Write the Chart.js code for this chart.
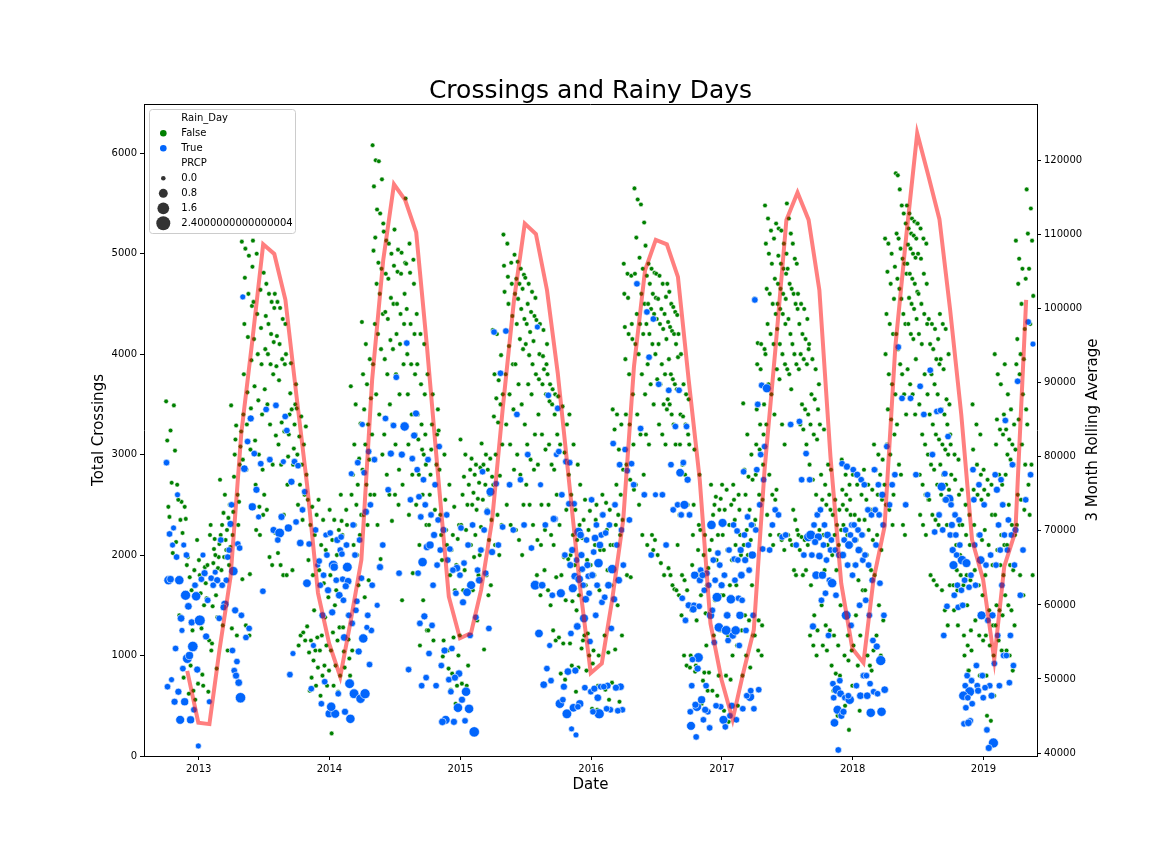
<!DOCTYPE html>
<html>
<head>
<meta charset="utf-8">
<title>Crossings and Rainy Days</title>
<script src="https://cdn.jsdelivr.net/npm/chart.js@4.4.1/dist/chart.umd.min.js"></script>
<style>
  html, body { margin: 0; padding: 0; background: #fff; }
  #wrap { width: 1152px; height: 864px; }
</style>
</head>
<body>
<div id="wrap"><canvas id="chart" width="1152" height="864"></canvas></div>
<script>
// daily data runs from Oct 2012 to mid May 2019, one inner list per month
const startYear = 2012;
const startMonth = 10;
const lastMonthDays = 20;

// crossings on days without rain
const dryCrossings = [
  // 2012 Oct-Dec
  [3530,3490,3240,3140,3040,2720,2480,2130,2020,2380],
  [2700,2480,2530,2550,2360,2220,1400,1900,780,2350],
  [1980,1850,1780,1700,1650,720,650,620,560,900,2150,1250],
  // 2013
  [1950,1880,1800,1720,1620,1570,1270,1900,810,640,700,1150,1500],
  [2200,2160,2110,2060,1980,1920,1870,1490,1380,1120,870,1050,1600,2300,2000],
  [2750,2600,2500,2420,2370,2300,2250,2200,2150,2080,1980,1900,1300,1050,1850,2050],
  [3490,3290,3230,3150,3080,3000,2900,2780,2530,2430,2300,2200,2600,1270,1200],
  [5120,5050,4980,4870,4760,4600,4480,4300,4170,3940,3800,3620,3460,3400,3300,3050,2950,2850,1810,1760,1300,1200],
  [5130,5000,4640,4520,4400,4260,4150,4000,3900,3680,3540,3400,3140,3000,2850,2700,2480,2400,2250,2200],
  [4810,4700,4600,4520,4460,4380,4300,4200,4120,4050,4000,3900,3800,3650,3500,3300,2900,2600,2450,1980,1900],
  [4600,4520,4460,4350,4300,4180,4100,3950,3900,3880,3740,3320,3230,3190,3100,2900,2400,2220,2020,1900,1800],
  [4000,3910,3700,3610,3500,3400,3300,3200,3060,2980,2900,2700,1850,1800,3450],
  [3460,3380,3280,3180,3100,3000,2900,2800,2700,2600,2500,2350,1290,1200,1150,1100,1230],
  [2550,2480,2400,2300,2200,1950,1800,1180,1150,1050,1030,950,880,780,700,650,1450],
  [2550,2350,2200,2100,2050,1850,1720,1580,1200,1100,1050,900,850,800,700,600,1380],
  // 2014
  [2450,2350,2250,2150,2000,1800,1500,1280,1230,1150,1050,900,800,700,640,225,1650],
  [2600,2450,2340,2300,2200,1400,1280,1160,1040,970,880,800,2100],
  [3680,3500,3310,3100,2960,2800,2700,2600,2500,2400,2300,2200,2100,1700,1050,2000],
  [4320,4100,3950,3800,3700,3560,3450,3300,3200,3100,2950,2850,2700,2600,2400,2300,1700,1580,1750],
  [6080,5930,5920,5740,5670,5440,5400,5300,5160,4910,4850,5030,4700,4600,4400,4300,4200,4050,3900,3600,3400,3000,2600,2300,1960],
  [5220,5130,5100,5000,4880,4800,4750,4560,4500,4420,4350,4140,4050,3950,3800,3500,3300,3200,2800,2600,2340],
  [5240,5040,5010,4910,4820,4800,4600,4500,4400,4300,4200,4100,3900,3800,3600,3300,3100,2850,2700,2600,2500,1550],
  [5550,5100,4940,4900,4810,4700,4450,4300,4200,4000,3900,3800,3600,3400,3200,3100,2800,2500,2400,1820],
  [4400,4200,4100,3900,3700,3600,3400,3300,3200,3150,3050,2900,2800,2600,2300,2100,1550,1250,1100,3000],
  [3800,3600,3450,3300,3200,3050,2900,2800,2700,2600,2450,2300,2200,1250,1150],
  [3240,3000,2850,2550,2400,2250,2200,2100,1950,1050,990,870,1150],
  [2700,2480,2300,2200,2160,2050,1900,1800,1650,1200,1180,1000,820,700,660,520],
  // 2015
  [3150,3000,2850,2780,2700,2600,2500,2300,2250,2100,1850,1700,1650,900,720,700],
  [2960,2900,2870,2800,2720,2620,2560,2500,2450,2280,2200,2000,1980,1800,1650,1350],
  [3110,3000,2960,2900,2850,2780,2700,2600,2550,2450,2350,2250,2150,2050,1800,1700,1060,1600],
  [4240,4200,3990,3800,3740,3600,3560,3500,3380,3320,3100,3000,2790,2700,2400,2300,2100,2000],
  [5190,5100,4910,4880,4770,4700,4620,4500,4380,4230,4080,3900,3800,3600,3450,3300,3100,2850,2500,2300],
  [4990,4920,4850,4790,4750,4700,4650,4600,4550,4450,4350,4300,4150,4050,3900,3700,3500,3300,3000,2800,2500,2250,2150,2000],
  [4760,4700,4620,4560,4500,4420,4380,4300,4220,4130,4100,3990,3900,3800,3700,3600,3200,3100,2950,2850,2700,2500,2300],
  [4340,4300,4240,4100,4000,3980,3900,3750,3700,3600,3400,3200,3050,2900,2500,2250,2150,2100,1850,1800,1600,3850],
  [3800,3700,3650,3600,3580,3530,3500,3400,3200,3100,2900,2850,2600,2500,2200,2100,1780,1650,1500,1250,1150],
  [3580,3480,3300,3100,3020,2800,2600,2450,2300,1980,1960,1800,1550,1180,1120,850,820,760],
  [3400,3100,2900,2600,2450,2300,2200,2150,2000,1900,1600,1540,1450,1120,850,880,900,640],
  [2700,2550,2440,2350,2250,2170,1950,1850,1700,1900,1200,1000,1150,1220,1070,850],
  // 2016
  [2550,2500,2400,2350,2200,2100,2050,1800,1650,1050,1000,920,700,470,460],
  [2600,2520,2450,2400,2250,2100,2050,1850,1700,1200,1030,730,660,560],
  [3450,3400,3300,3250,3050,2850,2700,2600,2500,2400,2350,2300,2200,2100,1500,1200,1060,540],
  [4900,4800,4780,4600,4560,4300,4270,4200,4150,3950,3800,3600,3400,3300,3100,2900,2750,2650,1800,1780],
  [5650,5540,5490,5310,5160,4960,4850,4800,4700,4600,4500,4400,4300,4200,4100,4000,3800,3600,3400,3200,2800,2700,2500,2200],
  [5080,4900,4850,4810,4780,4700,4600,4560,4500,4450,4400,4300,4200,4100,4000,3900,3700,3500,3200,3100,2200,2150,2100,2000,2050],
  [4800,4780,4700,4570,4550,4450,4400,4350,4300,4250,4150,4100,3900,3800,3750,3700,3500,3450,3300,3200,3100,2000,1920,1800],
  [4700,4620,4500,4470,4420,4390,4320,4270,4230,4200,4100,3970,3950,3800,3750,3700,3650,3550,3500,3400,3300,3100,2100,1870,1800,1700,1660,1650],
  [4200,4000,3700,3600,3550,3400,3380,3300,3200,3100,2900,2800,2500,2400,1800,1750,1650,1600,1400,1000,900],
  [3100,3050,2800,2500,2300,2200,2050,1900,1800,1450,1350,1000,900,880,840],
  [2250,2200,2050,2000,1870,1800,1700,1600,1420,1400,830,830,750,650,520,1100],
  [2700,2580,2560,2500,2450,2400,2200,2150,1950,1600,1550,1250,1200,800,650,600],
  // 2017
  [2700,2650,2500,2450,2300,2200,2050,1950,1800,1700,1600,1200,1000,800,760,450,340],
  [2700,2600,2550,2450,2350,2200,2100,2000,1700,1250,1100,800,500],
  [3510,3200,3000,2850,2780,2750,2600,2450,2300,2250,2150,2100,2000,1700,1400,1350,1200,1000,880],
  [4550,4110,4100,4050,3900,3850,3500,3450,3300,3200,3100,3050,2900,2800,2600,2550,2350,1350,1300,1200,1050,1000],
  [5480,5350,5230,5150,5100,5000,4900,4750,4650,4600,4500,4400,4300,4200,4100,4000,3700,3600,3400,3300,2800,2600,2550,2400,2200,2100],
  [5300,5250,5230,5100,5000,4980,4900,4850,4800,4700,4650,4600,4550,4500,4450,4400,4300,4250,4100,4000,3900,3850,3750,3300,3100,2650,2200,2150,2050],
  [5500,5350,5200,5100,4950,4900,4850,4700,4650,4600,4500,4450,4350,4200,4100,4000,3900,3850,3800,3650,2450,2350,2250,2200,2150,2100,1850,1800],
  [4600,4500,4450,4350,4300,4200,4150,4050,4000,3950,3900,3850,3500,3450,3400,3300,3250,3100,2200,2180,2150,2100,2050,1800,1850],
  [4100,3950,3850,3700,3600,3550,3450,3300,3200,3150,2900,2750,2600,2250,2200,2150,1800,1700,1400,1250,1200,1100,1000],
  [3300,3250,2900,2800,2700,2600,2550,2500,2450,2200,2100,2000,1850,1750,1500,1300,1250,1100,1050],
  [2850,2550,2450,2400,2300,2250,2200,2100,2000,1850,1500,1200,1100,900,820,800,650,400],
  [2950,2800,2700,2650,2600,2550,2500,2450,2400,2300,2200,2100,1400,1200,1050,1000,950,700,500,260],
  // 2018
  [2800,2700,2600,2400,2350,2200,2150,2050,1900,1750,1650,1400,1200,1100,900,800,700,450],
  [2850,2700,2650,2550,2450,2350,2250,2150,2000,1850,1650,1400,1050,1000,850,800,900],
  [3100,3000,2950,2850,2800,2700,2600,2550,2450,2400,2300,2200,2050,1800,1500,1350,1200,1000],
  [5150,5100,5000,4870,4820,4700,4550,4400,4300,4200,4000,3800,3700,3600,3450,3350,3200,3100,3000,2600,2500,2450,2300],
  [5800,5780,5640,5480,5400,5300,5200,5150,5050,4950,4900,4800,4750,4650,4550,4400,4300,4200,4050,3900,3800,3600,3400,3300,2900,2800,2300,2200],
  [5480,5400,5350,5320,5300,5250,5200,5180,5150,5090,5050,5000,4960,4900,4800,4750,4700,4620,4560,4500,4450,4350,4300,4200,4150,3950,3850,3700,3600,3400],
  [5300,5250,5150,5100,5000,4950,4800,4700,4600,4500,4400,4300,4200,4100,3800,3600,3500,3200,3100,3000,2800,2700,2600,2550,2400,2300,2200],
  [4350,4300,4250,4150,4100,4050,3950,3900,3800,3700,3600,3400,3300,3200,3150,2900,2850,2700,2550,2400,2350,2300,1800,1750,1700],
  [4400,4300,4250,4000,3950,3850,3550,3500,3450,3400,3300,3200,3100,3050,3000,2900,2800,2700,2650,2600,2550,2300,1700,1650,1450,1300],
  [3100,3000,2950,2800,2750,2600,2550,2400,2300,2200,2100,2000,1900,1850,1800,1700,1650,1500,1450,1300],
  [2650,2500,2400,2300,2200,2100,1950,1800,1750,1700,1500,1250,1200,1100,1050,1000,850,750,700,850],
  [3500,3300,3200,3050,2900,2800,2650,2600,2550,2300,2200,2150,1850,1700,1600,1350,1200,1150,900,800],
  // 2019 Jan-May
  [2850,2750,2700,2650,2600,2400,2250,2100,1900,1800,1450,1300,1200,1100,1000,800,700,600,400,350],
  [4000,3800,3700,3400,3350,3250,3200,3100,2800,2700,2400,2300,2200,2100,2050,1900,1800,1500,1450,1400,1300,1150,1050],
  [3900,3600,3450,3300,3250,3150,3100,3050,3000,2950,2900,2800,2500,2300,2200,2100,1900,1850,1600,1500,1450,1300,1050,1000,850],
  [5130,4950,4850,4750,4700,4500,4250,4150,4000,3950,3900,3800,3600,3450,3350,3100,2900,2600,2550,2450,2300,1800,1600],
  [5640,5450,5200,5130,4850,4580,4300,3300,2900,2700,1800,2400]
];

// crossings on rainy days as [crossings, PRCP]
const rainyCrossings = [
  // 2012 Oct-Dec
  [[2920,0.3],[2270,0.2],[2210,0.3],[1980,0.3],[2100,0.2],[1750,0.9],[1070,0.3],[760,0.2],[690,0.3],[540,0.4],[1760,0.5]],
  [[2600,0.2],[2100,0.2],[1750,0.9],[1600,1.1],[1370,0.5],[970,1.0],[870,0.3],[640,0.4],[540,0.6],[360,0.8],[2000,0.3],[1250,0.2]],
  [[1490,0.5],[1590,0.9],[1090,1.2],[1000,0.6],[860,0.4],[460,0.3],[360,0.6],[100,0.2],[1700,0.3],[1330,0.4]],
  // 2013
  [[1350,1.3],[1550,0.3],[1820,0.4],[1760,0.3],[540,0.2],[1190,0.4],[2000,0.2]],
  [[1770,0.3],[1750,0.4],[1700,0.3],[1370,0.3],[1830,0.2]],
  [[2150,0.3],[2310,0.4],[2050,0.3],[1980,0.3],[1750,0.3],[1510,0.6],[1480,0.4],[1700,0.3]],
  [[2500,0.3],[2110,0.3],[1840,0.9],[2070,0.3],[1450,0.4],[1400,0.3],[940,0.3],[1050,0.3],[730,0.5],[850,0.3],[580,1.2],[800,0.4]],
  [[4570,0.2],[3360,0.4],[3130,0.3],[2860,0.5],[2480,0.6],[1270,0.3],[1180,0.3]],
  [[3010,0.3],[2910,0.3],[2650,0.4],[1640,0.3],[2380,0.2]],
  [[3450,0.3],[2950,0.3],[2250,0.4]],
  [[3490,0.3],[3380,0.3],[2930,0.2],[2380,0.4],[2220,1.0],[2150,0.3]],
  [[3240,0.3],[2930,0.3],[2730,0.4],[2270,0.6],[2330,0.3],[1020,0.2],[810,0.3]],
  [[2890,0.3],[2630,0.3],[2120,0.5],[1720,0.7],[2450,0.3]],
  [[2110,0.3],[2250,0.3],[670,0.3],[1900,0.2],[1100,0.2]],
  [[1940,0.3],[2000,0.3],[1800,0.3],[1700,0.3],[1650,0.4],[740,0.3],[520,0.3],[420,0.6],[2200,0.2],[1400,0.4]],
  // 2014
  [[2220,0.3],[2150,0.4],[1900,1.0],[2050,0.3],[1750,0.3],[1430,0.4],[1600,0.5],[420,0.8],[490,0.9],[620,0.3],[1880,0.6]],
  [[2180,0.3],[2100,0.3],[2010,0.3],[1880,1.0],[1760,0.3],[1740,0.5],[1550,0.3],[1400,0.3],[1180,0.5],[720,1.0],[440,0.4],[370,0.9],[1690,0.4]],
  [[2810,0.2],[2920,0.3],[2300,0.3],[2150,0.3],[2000,0.3],[1770,0.3],[1540,0.3],[1320,0.3],[1040,0.4],[620,1.0],[570,0.9],[1450,0.3]],
  [[3300,0.2],[3030,0.3],[2820,0.3],[2500,0.3],[2430,0.4],[1700,0.3],[1400,0.3],[1170,0.9],[910,0.3],[620,1.1],[1250,0.3],[1280,0.2]],
  [[2950,0.3],[2100,0.3],[1880,0.4],[1500,0.2]],
  [[3360,0.3],[3290,0.3],[3010,0.4],[2650,0.3]],
  [[3770,0.3],[3280,0.9],[3000,0.4],[1820,0.3]],
  [[4110,0.3],[3410,0.4],[3190,0.4],[2960,0.3],[2550,0.3],[860,0.3]],
  [[2850,0.3],[2750,0.3],[2580,0.3],[2500,0.3],[2380,0.3],[2080,0.5],[1930,0.9],[1820,0.3],[1390,0.4],[1320,0.3],[780,0.3],[700,0.3]],
  [[2950,0.3],[2700,0.3],[2400,0.3],[2350,0.3],[2200,0.4],[2100,0.6],[1900,0.3],[1700,0.3],[1020,0.3],[700,0.3],[1300,0.3]],
  [[3080,0.3],[2400,0.3],[2250,0.4],[2050,0.3],[1950,0.3],[1050,0.4],[900,0.3],[760,0.3],[360,0.8],[340,0.5]],
  [[2060,0.3],[1870,0.5],[1850,0.3],[1800,0.3],[1620,0.3],[1070,0.3],[820,0.5],[780,0.4],[640,0.3],[480,0.9],[340,0.4]],
  // 2015
  [[2270,0.3],[2100,0.3],[1920,0.3],[1700,0.8],[1630,0.7],[1530,0.4],[1200,0.3],[640,0.9],[560,0.4],[470,0.9],[350,0.3]],
  [[2300,0.3],[2050,0.3],[1750,0.5],[1850,0.3],[1380,0.3],[240,1.2]],
  [[2830,0.3],[2630,0.8],[2430,0.4],[2250,0.3],[2030,0.4],[1270,0.3],[1820,0.3]],
  [[4220,0.3],[3810,0.3],[2710,0.3],[2280,0.3],[2100,0.3]],
  [[4230,0.3],[2700,0.3],[2250,0.3]],
  [[3400,0.3],[2750,0.3],[2300,0.3]],
  [[3000,0.3],[2070,0.3],[1700,1.0]],
  [[4270,0.2],[2300,0.3],[1700,0.5],[1220,0.7],[870,0.3],[710,0.5],[2700,0.2]],
  [[3590,0.3],[3460,0.3],[3000,0.2],[2360,0.3],[2360,0.4],[1600,0.3],[750,0.3],[1100,0.2]],
  [[3030,0.3],[2930,0.3],[2600,0.3],[2510,0.3],[2000,0.3],[1620,0.8],[840,0.5],[690,0.4],[520,0.9],[420,1.0],[560,0.3]],
  [[2920,0.3],[2510,0.3],[2230,0.9],[2050,0.4],[1950,0.3],[1900,0.4],[1790,0.5],[1760,0.7],[1670,0.8],[1290,0.5],[1220,0.3],[850,0.4],[520,0.6],[480,0.7],[490,0.3],[270,0.2],[210,0.2]],
  [[2200,0.5],[2150,0.3],[2000,0.4],[1900,0.4],[1860,0.3],[1790,0.3],[1700,0.3],[1620,0.3],[1370,0.8],[1140,0.3],[680,0.3],[640,0.3],[1560,0.5]],
  // 2016
  [[2550,0.3],[2300,0.3],[2200,0.3],[2170,0.5],[2100,0.5],[2030,0.3],[1920,0.9],[1800,0.4],[1700,0.3],[1530,0.3],[1400,0.3],[690,0.3],[670,0.4],[420,1.1],[440,0.3],[580,0.5]],
  [[2400,0.3],[2300,0.3],[2220,0.3],[1860,0.9],[1700,0.5],[1580,0.3],[1270,0.3],[700,0.4],[690,0.3],[460,0.3],[470,0.3]],
  [[3110,0.3],[2900,0.3],[2500,0.3],[2250,0.3],[2100,0.3],[1900,0.3],[1750,0.5],[1560,0.4],[690,0.5],[680,0.4],[460,0.3],[450,0.3]],
  [[3050,0.3],[2910,0.3],[2840,0.3],[2700,0.3],[2350,0.3]],
  [[4700,0.3],[3260,0.3],[2600,0.3]],
  [[4420,0.3],[4350,0.3],[3970,0.3],[2600,0.2],[2000,0.3]],
  [[3700,0.3],[2600,0.3],[2100,0.3]],
  [[3640,0.3],[3280,0.3],[2900,0.3],[2500,0.3],[2450,0.3]],
  [[3640,0.3],[3280,0.3],[2920,0.3],[2820,0.7],[2750,0.4],[2500,0.8],[2400,0.3],[1500,0.4],[1350,0.3],[1570,0.3]],
  [[2400,0.3],[1800,0.6],[1750,0.4],[1500,0.3],[1490,0.3],[1460,0.5],[980,1.0],[960,0.3],[870,0.4],[700,0.3],[490,0.9],[300,0.8],[190,0.3],[440,0.3],[510,0.4]],
  [[1850,0.3],[1820,0.3],[1800,0.4],[1700,0.3],[1650,0.3],[1400,0.6],[700,0.3],[560,0.6],[440,0.3],[360,0.3],[280,0.3],[460,0.4]],
  [[2300,0.9],[2020,0.3],[1950,0.3],[1900,0.3],[1750,0.3],[1700,0.4],[1580,1.0],[1450,0.3],[1280,0.9],[1130,0.3],[490,0.3],[500,0.3]],
  // 2017
  [[2320,0.8],[2050,0.3],[1800,0.3],[1560,0.9],[1250,1.0],[1200,0.5],[1150,0.3],[360,0.8],[400,0.3],[290,0.3],[500,0.4],[1400,0.5]],
  [[2300,0.3],[2240,0.3],[2050,0.4],[1960,0.3],[1950,0.3],[1800,0.5],[1750,0.3],[1570,0.3],[1550,0.3],[1250,0.9],[1100,0.3],[470,0.3],[360,0.3],[1400,0.6]],
  [[2830,0.3],[2380,0.3],[2300,0.3],[2200,0.3],[2100,0.3],[2000,0.6],[1950,0.4],[1850,0.3],[1400,0.3],[1250,0.3],[590,0.9],[470,0.3],[600,0.3],[650,0.3]],
  [[4540,0.3],[3690,0.3],[3500,0.3],[3080,0.3],[3000,0.3],[2850,0.3],[2750,0.3],[2500,0.3],[2250,0.3],[2060,0.3],[660,0.3]],
  [[3660,0.8],[2450,0.3],[2300,0.3],[2050,0.3]],
  [[2400,0.3],[2180,0.3],[2200,0.3]],
  [[3300,0.3],[2100,0.3]],
  [[3330,0.3],[3010,0.3],[2750,0.3],[2180,0.9],[2000,0.3]],
  [[2750,0.3],[2400,0.3],[2300,0.3],[2200,1.0],[2180,0.6],[2130,0.4],[2000,0.3],[1990,0.5],[1800,0.7],[1290,0.4]],
  [[2450,0.3],[2200,0.5],[2100,0.3],[2050,0.3],[1950,0.3],[1800,0.6],[1750,0.3],[1620,0.3],[1550,0.3],[1200,0.3],[2300,0.3]],
  [[2150,0.3],[2050,0.3],[2000,0.4],[1720,0.9],[1600,0.3],[750,0.3],[720,0.3],[660,0.9],[620,0.5],[580,0.3],[460,0.8],[400,0.4],[330,0.7],[60,0.3]],
  [[2910,0.3],[2880,0.4],[2300,0.3],[2250,0.3],[2200,0.3],[2150,0.3],[2100,0.7],[2000,0.5],[1900,0.3],[1800,0.3],[1400,1.0],[1300,0.3],[580,0.3],[560,0.9],[440,0.4],[600,0.3]],
  // 2018
  [[2850,0.3],[2800,0.4],[2750,0.3],[2300,0.3],[2250,0.3],[2200,0.3],[2150,0.3],[2050,0.5],[1950,0.3],[1900,0.3],[1500,0.3],[800,0.3],[700,0.3],[600,0.5]],
  [[2700,0.3],[2450,0.3],[2400,0.3],[2000,0.3],[1900,0.3],[1750,0.3],[1550,0.3],[1400,0.3],[1150,0.3],[800,0.3],[720,0.3],[640,0.3],[600,0.5],[430,0.9]],
  [[2850,0.3],[2700,0.3],[2600,0.4],[2450,0.3],[2400,0.3],[2300,0.3],[2100,0.3],[1720,0.3],[1400,0.3],[1090,0.4],[950,1.1],[660,0.5],[620,0.3],[440,0.9]],
  [[3080,0.3],[2800,0.3],[2700,0.3],[2500,0.3]],
  [[4070,0.3],[3560,0.3],[2500,0.3]],
  [[3560,0.3],[2800,0.3]],
  [[3680,0.3],[3400,0.3],[2600,0.3]],
  [[3840,0.3],[3430,0.3],[3000,0.3],[2400,0.3],[2230,0.3]],
  [[3440,0.3],[3180,0.3],[2810,0.3],[2680,0.8],[2560,0.9],[2550,0.4],[2250,0.3],[2200,0.3],[1490,0.3],[1200,0.3]],
  [[2500,0.3],[2400,0.3],[2350,0.3],[2300,0.4],[2200,0.3],[2100,0.3],[2050,0.4],[2000,0.3],[1950,0.3],[1900,0.8],[1700,0.3],[1650,0.3],[1600,0.3],[1480,0.3]],
  [[1950,0.9],[1920,0.8],[1800,0.3],[1750,0.3],[1680,0.3],[1500,0.3],[800,0.3],[750,0.3],[700,0.3],[640,1.0],[600,0.9],[580,0.3],[520,0.3],[480,0.3],[350,0.3],[320,0.3],[330,0.5]],
  [[2850,0.3],[2700,0.3],[2550,0.3],[2200,0.3],[2100,0.3],[1950,0.7],[1700,0.3],[1400,0.8],[900,0.3],[800,0.3],[700,0.3],[580,0.3],[650,0.4]],
  // 2019 Jan-May
  [[2500,0.3],[2000,0.3],[1900,0.3],[1400,0.4],[1350,0.3],[920,0.3],[700,0.3],[680,0.3],[600,0.4],[260,0.3],[130,1.1],[80,0.4]],
  [[2800,0.3],[2750,0.3],[2650,0.4],[2500,0.3],[2300,0.3],[2200,0.3],[2050,0.3],[1900,0.3],[1700,0.3],[1200,0.3],[1000,0.3],[700,0.3]],
  [[3340,0.3],[2900,0.3],[2350,0.3],[2250,0.4],[2200,0.3],[2050,0.3],[1900,0.3],[1200,0.3],[1000,0.3],[900,0.3],[730,0.3]],
  [[3730,0.3],[2550,0.3],[2050,0.3],[1600,0.3]],
  [[4320,0.3],[2800,0.3],[4100,0.2]]
];

// 3 month rolling average, one value per month end from Nov 2012 to Apr 2019
const rollingStartYear = 2012;
const rollingStartMonth = 11;
const rollingAvg = [
  51100,44100,43900,53900,63800,83200,95800,108700,107400,101200,88600,76000,
  61600,54800,50300,57500,66100,90400,106600,116800,114700,110300,94900,77500,
  61100,55500,56200,62000,71500,86800,101200,111500,110100,102500,91300,76900,
  62900,50800,52100,60700,71500,92200,105200,109300,108700,104300,90400,76900,
  57500,49900,44500,50500,56600,78200,94900,112000,115700,112000,102500,80000,
  62900,54100,52200,63400,70600,94900,110100,123700,118000,112100,99800,85700,
  68800,63400,52600,65200,69900,101200
];

const yearTicks = [2013, 2014, 2015, 2016, 2017, 2018, 2019];
const crossingTicks = [0, 1000, 2000, 3000, 4000, 5000, 6000];
const rollingTicks = [40000, 50000, 60000, 70000, 80000, 90000, 100000, 110000, 120000];
const prcpLegendValues = [0.0, 0.8, 1.6, 2.4000000000000004];
const prcpLegendLabels = ['0.0', '0.8', '1.6', '2.4000000000000004'];

const GREEN = '#008000';
const BLUE = '#0165fc';
const LINE_RED = 'rgba(255, 0, 0, 0.5)';
const FONT = '"DejaVu Sans", sans-serif';

// date -> fractional year, so a linear axis can place the days
function toYear(y, m, d) {
  const start = Date.UTC(y, 0, 1);
  const end = Date.UTC(y + 1, 0, 1);
  const t = Date.UTC(y, m - 1, 1) + (d - 1) * 86400000;
  return y + (t - start) / (end - start);
}

function daysIn(y, m) {
  return new Date(Date.UTC(y, m, 0)).getUTCDate();
}

function gcd(a, b) { return b ? gcd(b, a % b) : a; }

// spread a month's readings over its days without sorting them by value
function slotOf(i, n) {
  for (const s of [7, 5, 3, 11]) {
    if (s < n && gcd(s, n) === 1) return (i * s) % n;
  }
  return i;
}

// marker size grows with precipitation (area scaled, like the seaborn sizes)
function prcpRadius(p) {
  const r0 = 2.3, rMax = 7, pMax = 2.4;
  return Math.sqrt(r0 * r0 + (rMax * rMax - r0 * r0) * p / pMax);
}

const dryPoints = [];
const rainyPoints = [];
const rainyRadii = [];

dryCrossings.forEach((vals, i) => {
  const y = startYear + Math.floor((startMonth - 1 + i) / 12);
  const m = (startMonth - 1 + i) % 12 + 1;
  const days = i === dryCrossings.length - 1 ? lastMonthDays : daysIn(y, m);
  vals.forEach((v, j) => {
    const day = 1 + (slotOf(j, vals.length) + 0.3) * days / vals.length;
    dryPoints.push({ x: toYear(y, m, day), y: v });
  });
  const wet = rainyCrossings[i];
  wet.forEach((pair, j) => {
    const day = 1 + (slotOf(j, wet.length) + 0.7) * days / wet.length;
    rainyPoints.push({ x: toYear(y, m, day), y: pair[0] });
    rainyRadii.push(prcpRadius(pair[1]));
  });
});

const rollingPoints = rollingAvg.map((v, k) => {
  const y = rollingStartYear + Math.floor((rollingStartMonth - 1 + k) / 12);
  const m = (rollingStartMonth - 1 + k) % 12 + 1;
  return { x: toYear(y, m, daysIn(y, m)), y: v };
});

function setTicks(list) {
  return scale => { scale.ticks = list.map(v => ({ value: v })); };
}

function drawRotated(ctx, text, x, y) {
  ctx.save();
  ctx.translate(x, y);
  ctx.rotate(-Math.PI / 2);
  ctx.textAlign = 'center';
  ctx.textBaseline = 'alphabetic';
  ctx.fillText(text, 0, 0);
  ctx.restore();
}

// title, axis labels, top spine and the legend box
const decorations = {
  id: 'decorations',
  afterDraw(chart) {
    const { ctx, chartArea: a } = chart;
    const midX = (a.left + a.right) / 2;
    const midY = (a.top + a.bottom) / 2;
    ctx.save();

    ctx.strokeStyle = '#000';
    ctx.lineWidth = 1;
    ctx.beginPath();
    ctx.moveTo(a.left, Math.round(a.top) + 0.5);
    ctx.lineTo(a.right, Math.round(a.top) + 0.5);
    ctx.stroke();

    ctx.fillStyle = '#000';
    ctx.textAlign = 'center';
    ctx.textBaseline = 'alphabetic';
    ctx.font = '25px ' + FONT;
    ctx.fillText('Crossings and Rainy Days', midX, 98);

    ctx.font = '15px ' + FONT;
    ctx.fillText('Date', midX, 789);
    drawRotated(ctx, 'Total Crossings', 103, midY);
    drawRotated(ctx, '3 Month Rolling Average', 1097, midY);

    // legend
    const bx = a.left + 5.5, by = a.top + 5.5, bw = 146, bh = 124;
    ctx.beginPath();
    ctx.roundRect(bx, by, bw, bh, 3);
    ctx.fillStyle = 'rgba(255, 255, 255, 0.8)';
    ctx.fill();
    ctx.strokeStyle = '#cccccc';
    ctx.stroke();

    const rows = [
      { text: 'Rain_Day' },
      { text: 'False', color: GREEN, r: 3.3 },
      { text: 'True', color: BLUE, r: 3.3 },
      { text: 'PRCP' }
    ];
    prcpLegendValues.forEach((p, i) => {
      rows.push({ text: prcpLegendLabels[i], color: '#333333', r: prcpRadius(p) });
    });

    ctx.font = '10px ' + FONT;
    ctx.textAlign = 'left';
    ctx.textBaseline = 'middle';
    rows.forEach((row, i) => {
      const ry = a.top + 14.3 + i * 15;
      if (row.color) {
        ctx.beginPath();
        ctx.arc(a.left + 19.3, ry, row.r, 0, Math.PI * 2);
        ctx.fillStyle = row.color;
        ctx.fill();
      }
      ctx.fillStyle = '#000';
      ctx.fillText(row.text, a.left + 37.3, ry);
    });

    ctx.restore();
  }
};

const tickFont = { family: FONT, size: 10 };
const tickGrid = { drawOnChartArea: false, drawTicks: true, tickLength: 4, color: '#000', lineWidth: 1 };
const axisBorder = { display: true, color: '#000', width: 1 };

new Chart(document.getElementById('chart'), {
  type: 'scatter',
  data: {
    datasets: [
      {
        type: 'line',
        label: '3 Month Rolling Average',
        data: rollingPoints,
        yAxisID: 'y1',
        borderColor: LINE_RED,
        borderWidth: 4,
        pointRadius: 0,
        tension: 0,
        fill: false,
        order: 0
      },
      {
        label: 'True',
        data: rainyPoints,
        yAxisID: 'y',
        pointBackgroundColor: BLUE,
        pointBorderColor: '#ffffff',
        pointBorderWidth: 0.6,
        pointRadius: rainyRadii,
        order: 1
      },
      {
        label: 'False',
        data: dryPoints,
        yAxisID: 'y',
        pointBackgroundColor: GREEN,
        pointBorderColor: '#ffffff',
        pointBorderWidth: 0.5,
        pointRadius: 2.3,
        order: 2
      }
    ]
  },
  options: {
    responsive: false,
    animation: false,
    devicePixelRatio: 1,
    layout: { padding: { top: 104, left: 0, right: 0, bottom: 0 }, autoPadding: false },
    plugins: {
      legend: { display: false },
      title: { display: false },
      tooltip: { enabled: false }
    },
    scales: {
      x: {
        type: 'linear',
        position: 'bottom',
        min: 2012.582,
        max: 2019.409,
        afterBuildTicks: setTicks(yearTicks),
        afterFit: s => { s.height = 108; },
        ticks: { color: '#000', font: tickFont, padding: 3, maxRotation: 0, autoSkip: false, callback: v => String(v) },
        grid: tickGrid,
        border: axisBorder
      },
      y: {
        type: 'linear',
        position: 'left',
        min: 0,
        max: 6490,
        afterBuildTicks: setTicks(crossingTicks),
        afterFit: s => { s.width = 144; },
        ticks: { color: '#000', font: tickFont, padding: 3, callback: v => String(v) },
        grid: tickGrid,
        border: axisBorder
      },
      y1: {
        type: 'linear',
        position: 'right',
        min: 39595,
        max: 127650,
        afterBuildTicks: setTicks(rollingTicks),
        afterFit: s => { s.width = 115; },
        ticks: { color: '#000', font: tickFont, padding: 3, callback: v => String(v) },
        grid: tickGrid,
        border: axisBorder
      }
    }
  },
  plugins: [decorations]
});
</script>
</body>
</html>
